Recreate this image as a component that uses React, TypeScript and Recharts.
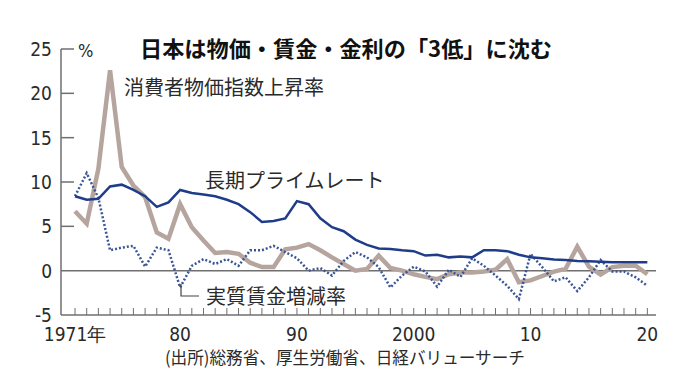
import React from 'react';
import { LineChart, Line, XAxis, YAxis, ReferenceLine } from 'recharts';

const years = [
  1971, 1972, 1973, 1974, 1975, 1976, 1977, 1978, 1979, 1980,
  1981, 1982, 1983, 1984, 1985, 1986, 1987, 1988, 1989, 1990,
  1991, 1992, 1993, 1994, 1995, 1996, 1997, 1998, 1999, 2000,
  2001, 2002, 2003, 2004, 2005, 2006, 2007, 2008, 2009, 2010,
  2011, 2012, 2013, 2014, 2015, 2016, 2017, 2018, 2019, 2020,
];

// 消費者物価指数上昇率
const cpi = [
  6.7, 5.3, 11.5, 22.6, 11.7, 9.6, 8.3, 4.3, 3.6, 7.5,
  4.9, 3.4, 2.0, 2.1, 1.9, 0.9, 0.4, 0.4, 2.4, 2.6,
  3.0, 2.3, 1.5, 0.75, 0.0, 0.2, 1.7, 0.3, 0.0, -0.4,
  -0.7, -0.95, -0.4, -0.2, -0.2, -0.1, 0.1, 1.3, -1.3, -1.1,
  -0.6, -0.1, 0.2, 2.7, 0.45, -0.45, 0.4, 0.55, 0.55, -0.4,
];

// 長期プライムレート
const primeRate = [
  8.4, 8.0, 8.1, 9.5, 9.7, 9.1, 8.4, 7.2, 7.7, 9.1,
  8.75, 8.6, 8.4, 8.0, 7.5, 6.6, 5.5, 5.6, 5.9, 7.85,
  7.5, 5.9, 4.9, 4.45, 3.5, 2.9, 2.5, 2.45, 2.3, 2.2,
  1.7, 1.8, 1.5, 1.6, 1.5, 2.3, 2.3, 2.2, 1.8, 1.5,
  1.4, 1.25, 1.2, 1.1, 1.05, 1.0, 0.95, 0.95, 0.95, 0.95,
];

// 実質賃金増減率
const realWage = [
  8.4, 11.0, 8.2, 2.3, 2.6, 2.8, 0.45, 2.6, 2.3, -1.9,
  0.55, 1.3, 0.75, 1.3, 0.55, 2.3, 2.3, 2.8, 2.1, 1.4,
  0.0, 0.3, -0.55, 1.1, 2.1, 1.5, 0.4, -1.9, -0.55, 0.45,
  -0.1, -1.8, 0.1, -0.7, 1.4, 0.55, -0.55, -1.7, -3.2, 1.9,
  0.4, -1.2, -0.75, -2.3, -0.75, 1.2, -0.1, -0.1, -0.75, -1.7,
];

const yTicks = [-5, 0, 5, 10, 15, 20, 25];
const xLabels: Record<number, string> = {
  1971: '1971年',
  1980: '80',
  1990: '90',
  2000: '2000',
  2010: '10',
  2020: '20',
};

const data = years.map((year, i) => ({
  year,
  cpi: cpi[i],
  prime: primeRate[i],
  wage: realWage[i],
}));

const axisColor = '#6f6f6f';
const textColor = '#2a2a2a';
const numFont = "'Liberation Sans Narrow', 'DejaVu Sans Condensed', 'Liberation Sans', sans-serif";
const jpFont = "'Noto Sans CJK JP', sans-serif";

const YTick = (props: any) => {
  const { x, y, payload } = props;
  const v = payload.value;
  return (
    <g>
      {v !== 0 && v !== -5 && (
        <line x1={x} x2={x + 13} y1={y} y2={y} stroke={axisColor} strokeWidth={1.5} />
      )}
      <text x={x - 9} y={y + 7} textAnchor="end" fontSize={19} fontFamily={numFont} fill={textColor}>
        {v}
      </text>
    </g>
  );
};

const XTick = (props: any) => {
  const { x, y, payload } = props;
  const label = xLabels[payload.value];
  return (
    <g>
      <line x1={x} x2={x} y1={y - 7} y2={y} stroke={axisColor} strokeWidth={1} />
      {label && (
        <text x={x} y={y + 26} textAnchor="middle" fontSize={19} fontFamily={numFont} fill={textColor}>
          {label}
        </text>
      )}
    </g>
  );
};

export default function App() {
  return (
    <div style={{ position: 'absolute', left: 0, top: 0, width: 691, height: 381, background: '#fff' }}>
      <LineChart width={691} height={381} data={data} margin={{ top: 49, right: 35, bottom: 0, left: 0 }}>
        <XAxis
          dataKey="year"
          type="number"
          domain={[1969.8, 2020.74]}
          ticks={years}
          interval={0}
          tickSize={0}
          tickMargin={0}
          tickLine={false}
          height={66}
          axisLine={{ stroke: axisColor, strokeWidth: 1.5 }}
          tick={<XTick />}
        />
        <YAxis
          type="number"
          domain={[-5, 25]}
          ticks={yTicks}
          interval={0}
          width={61}
          tickSize={0}
          tickMargin={0}
          tickLine={false}
          axisLine={{ stroke: axisColor, strokeWidth: 1.5 }}
          tick={<YTick />}
        />
        <ReferenceLine y={0} stroke={axisColor} strokeWidth={1.5} />
        <Line
          dataKey="cpi"
          type="linear"
          stroke="#b6a59e"
          strokeWidth={4.5}
          dot={false}
          isAnimationActive={false}
        />
        <Line
          dataKey="wage"
          type="linear"
          stroke="#3b5696"
          strokeWidth={2.5}
          strokeDasharray="2 2"
          dot={false}
          isAnimationActive={false}
        />
        <Line
          dataKey="prime"
          type="linear"
          stroke="#1f3c88"
          strokeWidth={2.5}
          dot={false}
          isAnimationActive={false}
        />
      </LineChart>
      <svg
        width={691}
        height={381}
        style={{ position: 'absolute', left: 0, top: 0, pointerEvents: 'none' }}
      >
        <text x={140} y={57} fontSize={22} fontWeight="bold" fontFamily={jpFont} fill="#111" textLength={412} lengthAdjust="spacingAndGlyphs">
          日本は物価・賃金・金利の「3低」に沈む
        </text>
        <text x={78} y={57} fontSize={18} fontFamily={numFont} fill={textColor}>%</text>
        <text x={124} y={95} fontSize={20} fontFamily={jpFont} fill={textColor}>消費者物価指数上昇率</text>
        <text x={205} y={188} fontSize={20} fontFamily={jpFont} fill={textColor}>長期プライムレート</text>
        <polyline points="181,284 181,296 199,296" fill="none" stroke="#444" strokeWidth={1.2} />
        <text x={206} y={304} fontSize={20} fontFamily={jpFont} fill={textColor}>実質賃金増減率</text>
        <text x={165} y={364} fontSize={17.5} fontFamily={jpFont} fill={textColor} textLength={360} lengthAdjust="spacingAndGlyphs">
          (出所)総務省、厚生労働省、日経バリューサーチ
        </text>
      </svg>
    </div>
  );
}
